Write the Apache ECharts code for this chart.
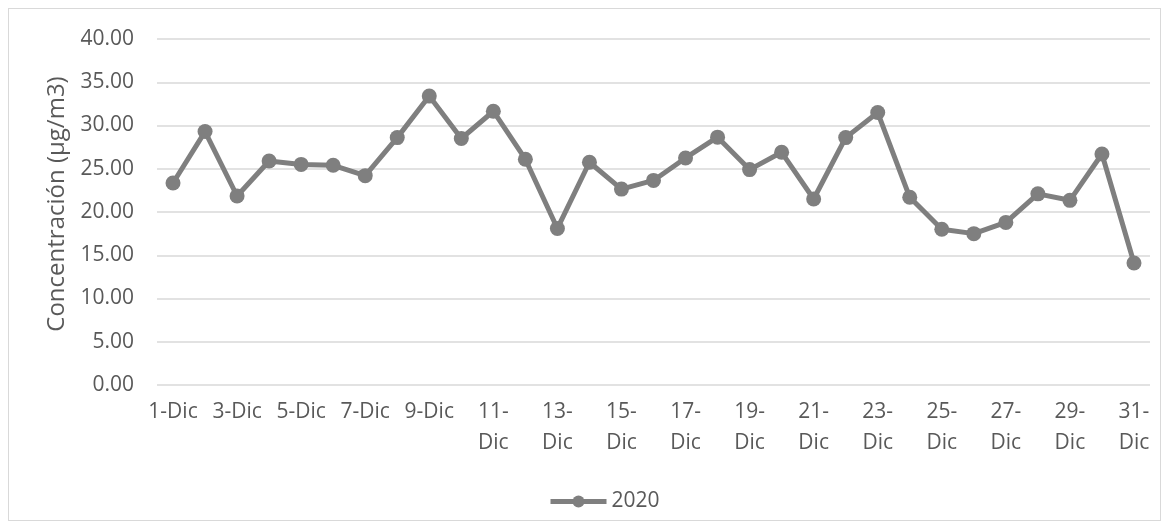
<!DOCTYPE html>
<html>
<head>
<meta charset="utf-8">
<script src="https://cdn.jsdelivr.net/npm/echarts@6/dist/echarts.min.js"></script>
<style>
html,body{margin:0;padding:0;background:#fff;}
#frame{position:absolute;left:8px;top:8px;width:1153px;height:513px;border:1px solid #d9d9d9;box-sizing:border-box;}
#chart{position:absolute;left:0;top:0;width:1171px;height:530px;}
</style>
</head>
<body>
<div id="frame"></div>
<div id="chart"></div>
<script>
const categories = ['1-Dic','2-Dic','3-Dic','4-Dic','5-Dic','6-Dic','7-Dic','8-Dic','9-Dic','10-Dic',
  '11-Dic','12-Dic','13-Dic','14-Dic','15-Dic','16-Dic','17-Dic','18-Dic','19-Dic','20-Dic',
  '21-Dic','22-Dic','23-Dic','24-Dic','25-Dic','26-Dic','27-Dic','28-Dic','29-Dic','30-Dic','31-Dic'];
const values2020 = [23.35, 29.3, 21.85, 25.9, 25.5, 25.4, 24.2, 28.6, 33.4, 28.5,
  31.65, 26.1, 18.1, 25.75, 22.65, 23.65, 26.25, 28.65, 24.9, 26.9,
  21.5, 28.6, 31.5, 21.7, 18.0, 17.5, 18.8, 22.1, 21.35, 26.7, 14.1];
const seriesName = '2020';
const yAxisTitle = 'Concentración (µg/m3)';

const chart = echarts.init(document.getElementById('chart'), null, {renderer:'canvas'});
const txt = '#595959';
const font = 'Open Sans';
chart.setOption({
  animation:false,
  grid:{left:157, right:21, top:39, bottom:145, containLabel:false},
  legend:{
    data:[seriesName], top:486, left:543,
    itemWidth:56, itemHeight:15,
    lineStyle:{width:5},
    textStyle:{color:txt, fontFamily:font, fontSize:21}
  },
  xAxis:{
    type:'category', data:categories, boundaryGap:true,
    axisLine:{show:false}, axisTick:{show:false},
    axisLabel:{
      interval:1, color:txt, fontFamily:font, fontSize:21, margin:12, lineHeight:31,
      formatter:function(v){ return v.length > 5 ? v.replace('-', '-\n') : v; }
    }
  },
  yAxis:{
    type:'value', min:0, max:40, interval:5,
    name:yAxisTitle, nameLocation:'middle', nameGap:86, nameRotate:90,
    nameTextStyle:{color:txt, fontFamily:font, fontSize:24, padding:[0,0,0,16]},
    axisLine:{show:false}, axisTick:{show:false},
    axisLabel:{color:txt, fontFamily:font, fontSize:21, margin:23,
      formatter:function(v){ return v.toFixed(2); }},
    splitLine:{lineStyle:{color:'#d9d9d9', width:1.5}}
  },
  series:[{
    name:seriesName, type:'line', data:values2020,
    symbol:'circle', symbolSize:15,
    lineStyle:{color:'#7f7f7f', width:5},
    itemStyle:{color:'#7f7f7f'}
  }]
});
</script>
</body>
</html>
